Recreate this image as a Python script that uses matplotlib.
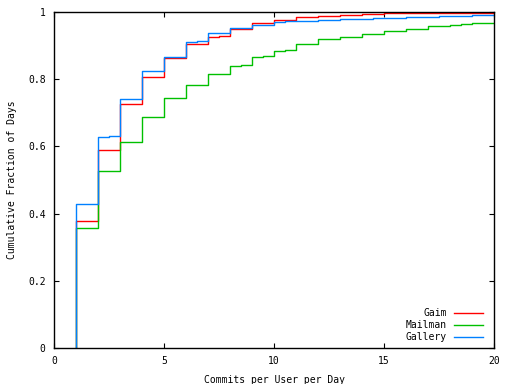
import matplotlib
matplotlib.use("Agg")
import matplotlib.pyplot as plt
from matplotlib.lines import Line2D

# Data (step points, value holds from x until next x)
gaim_x = [1, 1, 2, 3, 4, 5, 6, 7, 7.5, 8, 9, 10, 11, 12, 13, 14, 15, 20]
gaim_y = [0, 0.378, 0.588, 0.725, 0.807, 0.862, 0.904, 0.925, 0.929, 0.948, 0.966,
          0.975, 0.984, 0.987, 0.990, 0.993, 0.997, 0.997]

mailman_x = [1, 1, 2, 3, 4, 5, 6, 7, 8, 8.5, 9, 9.5, 10, 10.5, 11, 12, 13, 14, 15,
             16, 17, 18, 18.5, 19, 20]
mailman_y = [0, 0.356, 0.526, 0.613, 0.687, 0.743, 0.782, 0.815, 0.838, 0.841, 0.865,
             0.868, 0.883, 0.886, 0.904, 0.919, 0.925, 0.934, 0.943, 0.948, 0.957,
             0.960, 0.963, 0.966, 0.966]

gallery_x = [1, 1, 2, 2.5, 3, 4, 5, 6, 6.5, 7, 8, 9, 10, 10.5, 12, 13, 14.5, 16,
             17.5, 19, 20]
gallery_y = [0, 0.4286, 0.627, 0.631, 0.740, 0.824, 0.865, 0.910, 0.914, 0.937, 0.951,
             0.960, 0.969, 0.972, 0.975, 0.978, 0.981, 0.984, 0.987, 0.990, 0.990]

series_names = ["Gaim", "Mailman", "Gallery"]
colors = ["#ff0000", "#00c000", "#0080ff"]

xticks = [0, 5, 10, 15, 20]
xticklabels = ["0", "5", "10", "15", "20"]
yticks = [0, 0.2, 0.4, 0.6, 0.8, 1]
yticklabels = ["0", "0.2", "0.4", "0.6", "0.8", "1"]

plt.rcParams['font.family'] = ['DejaVu Sans Mono']
fs = 7

fig = plt.figure(figsize=(5.12, 3.84), dpi=100)
ax = fig.add_axes([54/512, 36/384, 440/512, 336/384])

data = [(gaim_x, gaim_y), (mailman_x, mailman_y), (gallery_x, gallery_y)]
for (xs, ys), c in zip(data, colors):
    ax.step(xs, ys, where='post', color=c, lw=1.0)

ax.set_xlim(0, 20)
ax.set_ylim(0, 1)
ax.set_xticks(xticks)
ax.set_xticklabels(xticklabels, fontsize=fs)
ax.set_yticks(yticks)
ax.set_yticklabels(yticklabels, fontsize=fs)
ax.tick_params(direction='in', length=3.5, width=0.8, top=True, right=True,
               pad=6)
for s in ax.spines.values():
    s.set_linewidth(1.0)
    s.set_zorder(5)

ax.set_xlabel("Commits per User per Day", fontsize=fs, labelpad=6)
ax.set_ylabel("Cumulative Fraction of Days", fontsize=fs, labelpad=8)

# Legend drawn gnuplot style (text right-aligned, sample after)
rows_y = [0.103, 0.0685, 0.032]
for name, c, yy in zip(series_names, colors, rows_y):
    ax.text(0.8925, yy, name, transform=ax.transAxes, ha='right', va='center',
            fontsize=fs)
    ax.add_line(Line2D([0.909, 0.974], [yy, yy], transform=ax.transAxes,
                       color=c, lw=1.0))

fig.savefig("out.png", dpi=100)
